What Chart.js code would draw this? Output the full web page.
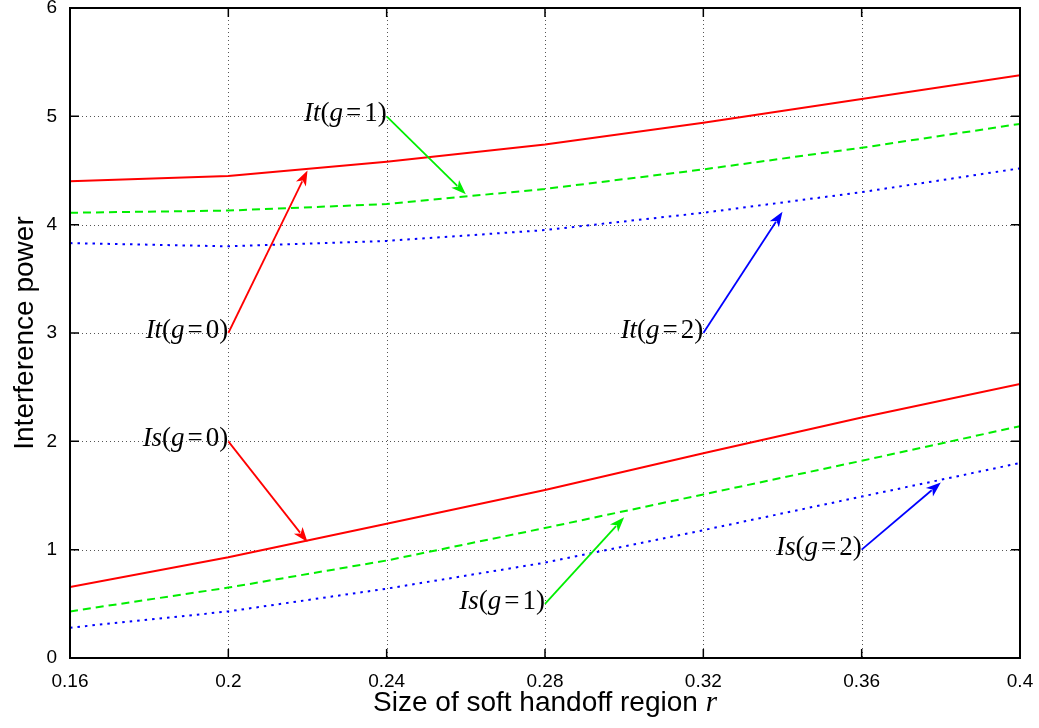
<!DOCTYPE html>
<html>
<head>
<meta charset="utf-8">
<script src="https://cdn.jsdelivr.net/npm/chart.js@4/dist/chart.umd.min.js"></script>
<style>
  html, body { margin: 0; padding: 0; background: #fff; }
  #wrap { width: 1039px; height: 728px; position: relative; }
</style>
</head>
<body>
<div id="wrap"><canvas id="c" width="1039" height="728"></canvas></div>
<script>
// ---- data ----
const rValues = [0.16, 0.20, 0.24, 0.28, 0.32, 0.36, 0.40];
const itG0 = [4.40, 4.45, 4.58, 4.74, 4.94, 5.16, 5.38];
const itG1 = [4.11, 4.13, 4.19, 4.33, 4.51, 4.71, 4.93];
const itG2 = [3.83, 3.80, 3.85, 3.95, 4.11, 4.30, 4.52];
const isG0 = [0.655, 0.93, 1.24, 1.55, 1.89, 2.22, 2.53];
const isG1 = [0.43, 0.65, 0.90, 1.20, 1.51, 1.82, 2.14];
const isG2 = [0.28, 0.43, 0.64, 0.88, 1.18, 1.49, 1.80];
const xTicks = [0.16, 0.20, 0.24, 0.28, 0.32, 0.36, 0.40];
const yTicks = [0, 1, 2, 3, 4, 5, 6];
const xTitle = 'Size of soft handoff region ';
const xTitleVar = 'r';
const yTitle = 'Interference power';
// annotations: label anchor (lx,ly) in data units, arrow tip (tx,ty)
const annotations = [
  { v: 'It', g: '0', lx: 0.20, ly: 3.0, tx: 0.22, ty: 4.50, color: '#ff0000' },
  { v: 'It', g: '1', lx: 0.24, ly: 5.0, tx: 0.26, ty: 4.28, color: '#00ee00' },
  { v: 'It', g: '2', lx: 0.32, ly: 3.0, tx: 0.34, ty: 4.12, color: '#0000ff' },
  { v: 'Is', g: '0', lx: 0.20, ly: 2.0, tx: 0.22, ty: 1.07, color: '#ff0000' },
  { v: 'Is', g: '1', lx: 0.28, ly: 0.5, tx: 0.30, ty: 1.30, color: '#00ee00' },
  { v: 'Is', g: '2', lx: 0.36, ly: 1.0, tx: 0.38, ty: 1.62, color: '#0000ff' }
];

const pts = arr => arr.map((v, i) => ({ x: rValues[i], y: v }));
const RED = '#ff0000', GREEN = '#00ee00', BLUE = '#0000ff';
const SANS = '"Liberation Sans", Arial, Helvetica, sans-serif';
const SERIF = '"Liberation Serif", "Times New Roman", serif';

function ds(arr, color, dash) {
  return { data: pts(arr), borderColor: color, borderWidth: 2, borderDash: dash,
           pointRadius: 0, fill: false, tension: 0 };
}

const framePlugin = {
  id: 'frame',
  beforeDatasetsDraw(chart) {
    const { ctx, chartArea: a, scales: { x, y } } = chart;
    ctx.save();
    ctx.strokeStyle = '#555';
    ctx.lineWidth = 1;
    ctx.setLineDash([1, 3]);
    xTicks.forEach(t => {
      const px = Math.round(x.getPixelForValue(t)) + 0.5;
      if (px <= a.left + 2 || px >= a.right - 2) return;
      ctx.beginPath(); ctx.moveTo(px, a.top); ctx.lineTo(px, a.bottom); ctx.stroke();
    });
    yTicks.forEach(t => {
      const py = Math.round(y.getPixelForValue(t)) + 0.5;
      if (py <= a.top + 2 || py >= a.bottom - 2) return;
      ctx.beginPath(); ctx.moveTo(a.left, py); ctx.lineTo(a.right, py); ctx.stroke();
    });
    ctx.restore();
  },
  afterDatasetsDraw(chart) {
    const { ctx, chartArea: a, scales: { x, y } } = chart;
    ctx.save();
    ctx.setLineDash([]);
    ctx.strokeStyle = '#000';
    ctx.lineWidth = 2;
    ctx.strokeRect(a.left, a.top, a.right - a.left, a.bottom - a.top);
    const TL = 9;
    ctx.lineWidth = 1.5;
    xTicks.forEach(t => {
      const px = x.getPixelForValue(t);
      ctx.beginPath();
      ctx.moveTo(px, a.bottom); ctx.lineTo(px, a.bottom - TL);
      ctx.moveTo(px, a.top); ctx.lineTo(px, a.top + TL);
      ctx.stroke();
    });
    yTicks.forEach(t => {
      const py = y.getPixelForValue(t);
      ctx.beginPath();
      ctx.moveTo(a.left, py); ctx.lineTo(a.left + TL, py);
      ctx.moveTo(a.right, py); ctx.lineTo(a.right - TL, py);
      ctx.stroke();
    });

    // annotations
    annotations.forEach(an => {
      const lx = x.getPixelForValue(an.lx), ly = y.getPixelForValue(an.ly);
      const tx = x.getPixelForValue(an.tx), ty = y.getPixelForValue(an.ty);
      ctx.strokeStyle = an.color; ctx.fillStyle = an.color;
      ctx.lineWidth = 1.8;
      const ang = Math.atan2(ty - ly, tx - lx);
      const HL = 15, HW = 5.5;
      const c = Math.cos(ang), s = Math.sin(ang);
      const bx = tx - c * (HL - 3), by = ty - s * (HL - 3);
      ctx.beginPath(); ctx.moveTo(lx, ly); ctx.lineTo(bx, by); ctx.stroke();
      const p1x = tx - c * HL - s * HW, p1y = ty - s * HL + c * HW;
      const p2x = tx - c * HL + s * HW, p2y = ty - s * HL - c * HW;
      const nx = tx - c * (HL - 4), ny = ty - s * (HL - 4);
      ctx.beginPath(); ctx.moveTo(tx, ty); ctx.lineTo(p1x, p1y); ctx.lineTo(nx, ny); ctx.lineTo(p2x, p2y); ctx.closePath(); ctx.fill();

      // label, right-aligned at the anchor: italic variable, upright rest
      const fs = 27;
      const fItal = `italic ${fs}px ${SERIF}`;
      const fUp = `${fs}px ${SERIF}`;
      const parts = [
        [an.v, fItal, 0], ['(', fUp, 0], ['g', fItal, 0], ['=', fUp, 3], [an.g, fUp, 3], [')', fUp, 0]
      ];
      let w = 0;
      parts.forEach(p => { ctx.font = p[1]; w += ctx.measureText(p[0]).width + p[2]; });
      let cx = lx - w;
      ctx.fillStyle = '#000';
      ctx.textBaseline = 'alphabetic';
      ctx.textAlign = 'left';
      parts.forEach(p => {
        ctx.font = p[1];
        cx += p[2];
        ctx.fillText(p[0], cx, ly + 5);
        cx += ctx.measureText(p[0]).width;
      });
    });

    // axis titles
    ctx.fillStyle = '#000';
    const tf = `28px ${SANS}`;
    const tfi = `italic 29px ${SERIF}`;
    ctx.font = tf;
    const w1 = ctx.measureText(xTitle).width;
    ctx.font = tfi;
    const w2 = ctx.measureText(xTitleVar).width;
    const cxm = (a.left + a.right) / 2;
    const sx = cxm - (w1 + w2) / 2;
    ctx.textBaseline = 'alphabetic';
    ctx.textAlign = 'left';
    ctx.font = tf; ctx.fillText(xTitle, sx, 711);
    ctx.font = tfi; ctx.fillText(xTitleVar, sx + w1, 711);

    ctx.save();
    ctx.translate(33, (a.top + a.bottom) / 2);
    ctx.rotate(-Math.PI / 2);
    ctx.textAlign = 'center';
    ctx.textBaseline = 'alphabetic';
    ctx.font = tf;
    ctx.fillText(yTitle, 0, 0);
    ctx.restore();

    ctx.restore();
  }
};

new Chart(document.getElementById('c'), {
  type: 'line',
  data: {
    datasets: [
      ds(itG0, RED, []), ds(itG1, GREEN, [8, 5]), ds(itG2, BLUE, [2.5, 5]),
      ds(isG0, RED, []), ds(isG1, GREEN, [8, 5]), ds(isG2, BLUE, [2.5, 5])
    ]
  },
  options: {
    responsive: false,
    animation: false,
    layout: { padding: { left: 0, top: 8, right: 19, bottom: 0 } },
    plugins: { legend: { display: false }, tooltip: { enabled: false } },
    scales: {
      x: {
        type: 'linear', min: 0.16, max: 0.40,
        grid: { display: false, drawTicks: false },
        border: { display: false },
        afterBuildTicks: s => { s.ticks = xTicks.map(v => ({ value: v })); },
        afterFit: s => { s.height = 70; s.paddingLeft = 0; s.paddingRight = 0; },
        ticks: {
          color: '#000', padding: 12, maxRotation: 0, autoSkip: false,
          font: { family: SANS, size: 19 },
          callback: v => String(Number(v.toFixed(2)))
        }
      },
      y: {
        type: 'linear', min: 0, max: 6,
        grid: { display: false, drawTicks: false },
        border: { display: false },
        afterBuildTicks: s => { s.ticks = yTicks.map(v => ({ value: v })); },
        afterFit: s => { s.width = 70; s.paddingTop = 0; s.paddingBottom = 0; },
        ticks: {
          color: '#000', padding: 13,
          font: { family: SANS, size: 19 },
          callback: v => String(v)
        }
      }
    }
  },
  plugins: [framePlugin]
});
</script>
</body>
</html>
